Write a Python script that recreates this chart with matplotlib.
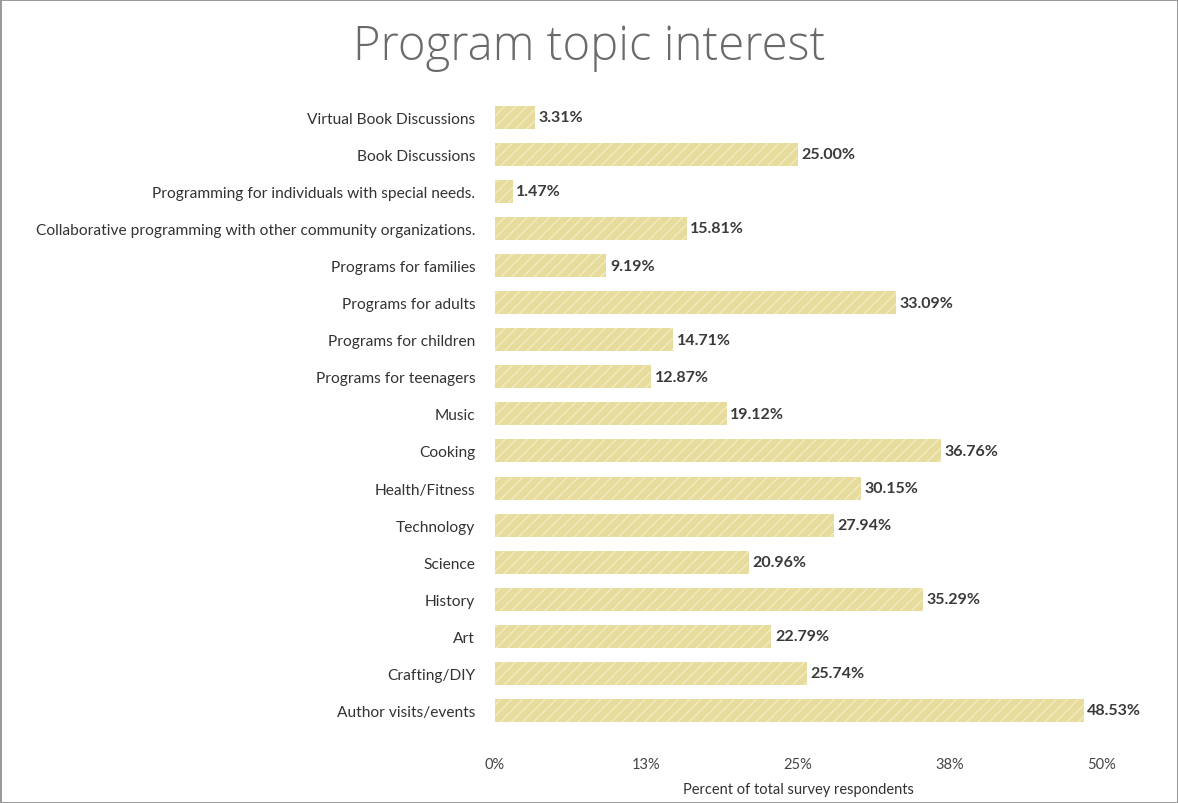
import matplotlib.pyplot as plt
import numpy as np

# survey results, top to bottom as shown
topics = [
    "Virtual Book Discussions",
    "Book Discussions",
    "Programming for individuals with special needs.",
    "Collaborative programming with other community organizations.",
    "Programs for families",
    "Programs for adults",
    "Programs for children",
    "Programs for teenagers",
    "Music",
    "Cooking",
    "Health/Fitness",
    "Technology",
    "Science",
    "History",
    "Art",
    "Crafting/DIY",
    "Author visits/events",
]
percents = [3.31, 25.00, 1.47, 15.81, 9.19, 33.09, 14.71, 12.87, 19.12,
            36.76, 30.15, 27.94, 20.96, 35.29, 22.79, 25.74, 48.53]
tick_vals = [0, 12.5, 25, 37.5, 50]
tick_labels = ["0%", "13%", "25%", "38%", "50%"]


def main():
    plt.rcParams['font.family'] = ['Lato', 'DejaVu Sans']
    plt.rcParams['hatch.linewidth'] = 1.0

    fig = plt.figure(figsize=(11.78, 8.04), dpi=100)
    fig.patch.set_edgecolor('#9a9a9a')
    fig.patch.set_linewidth(2)
    ax = fig.add_axes([0.42, 0.092, 0.515, 0.784])

    y = np.arange(len(topics))
    ax.barh(y, percents, height=0.62, color='#e8dc9c', hatch='///',
            edgecolor='#f2eac2', linewidth=0)
    for yi, v in zip(y, percents):
        ax.text(v + 0.3, yi, f"{v:.2f}%", va='center', ha='left',
                fontsize=11.5, fontweight='bold', color='#3a3a3a')

    ax.set_yticks(y)
    ax.set_yticklabels(topics, fontsize=11.2, color='#333333')
    ax.set_ylim(len(topics) - 0.5, -0.5)
    ax.set_xlim(0, 50)
    ax.set_xticks(tick_vals)
    ax.set_xticklabels(tick_labels, fontsize=10.5, color='#444444')
    ax.tick_params(length=0, pad=14)
    ax.tick_params(axis='x', pad=20)
    for s in ax.spines.values():
        s.set_visible(False)
    ax.set_xlabel("Percent of total survey respondents", fontsize=10.5,
                  color='#333333', labelpad=8)

    fig.text(0.5, 0.94, "Program topic interest", ha='center', va='center',
             fontsize=34, color='#6a6a6a', family=['Open Sans', 'DejaVu Sans'],
             fontweight='light')

    fig.savefig("out.png", dpi=100)


if __name__ == "__main__":
    main()
